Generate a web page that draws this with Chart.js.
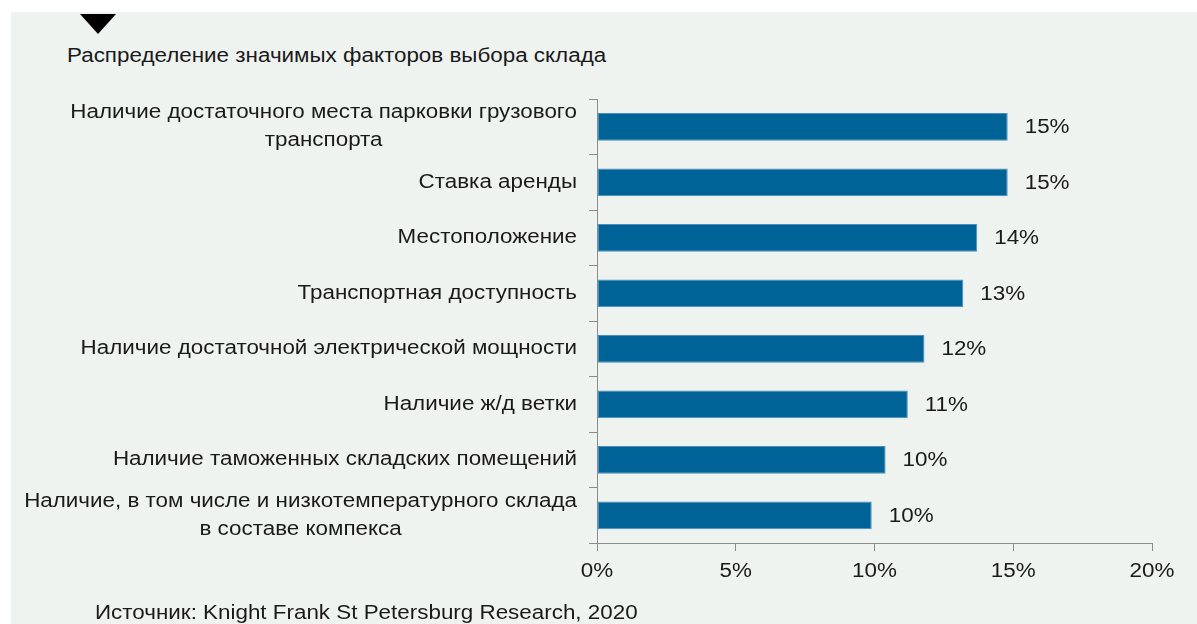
<!DOCTYPE html>
<html lang="ru">
<head>
<meta charset="utf-8">
<script src="https://cdn.jsdelivr.net/npm/chart.js@4/dist/chart.umd.min.js"></script>
<style>
  body { margin: 0; background: #fff; width: 1197px; height: 624px; overflow: hidden; position: relative; font-family: "Liberation Sans", Arial, sans-serif; color: #1a1a1a; }
  #panel { position: absolute; left: 11px; top: 12px; right: 0; bottom: 0; background: #eff3f0; }
  #marker { position: absolute; left: 80px; top: 14px; width: 0; height: 0; border-left: 18px solid transparent; border-right: 18px solid transparent; border-top: 20px solid #000; }
  .txt { position: absolute; font-size: 20px; white-space: nowrap; transform: scaleX(1.12); transform-origin: 0 0; }
  #title { left: 67px; top: 44px; }
  #source { left: 95px; top: 601px; }
  #wrap { position: absolute; left: 0; top: 0; width: 1197px; height: 624px; }
</style>
</head>
<body>
<div id="panel"></div>
<div id="marker"></div>
<div id="title" class="txt">Распределение значимых факторов выбора склада</div>
<div id="wrap"><canvas id="factors"></canvas></div>
<div id="source" class="txt">Источник: Knight Frank St Petersburg Research, 2020</div>
<script>
// categories (each one split into its printed lines)
const factors = [
    ["Наличие достаточного места парковки грузового", "транспорта"],
    ["Ставка аренды"],
    ["Местоположение"],
    ["Транспортная доступность"],
    ["Наличие достаточной электрической мощности"],
    ["Наличие ж/д ветки"],
    ["Наличие таможенных складских помещений"],
    ["Наличие, в том числе и низкотемпературного склада", "в составе компекса"]
];
// share of answers, %
const shares = [14.8, 14.8, 13.7, 13.2, 11.8, 11.2, 10.4, 9.9];
const xTicks = [0, 5, 10, 15, 20];

const FONT = '"Liberation Sans", Arial, sans-serif';
const TEXT = "#1a1a1a";
const AXIS = "#8c8c8c";
const STRETCH = 1.12; // the source text is a bit wider than the font

function wideText(ctx, s, x, y, align) {
    ctx.save();
    ctx.translate(x, y);
    ctx.scale(STRETCH, 1);
    ctx.textAlign = align;
    ctx.fillText(s, 0, 0);
    ctx.restore();
}

// y labels (lines centred on each other, block right-aligned), value labels, x tick labels
const labelsPlugin = {
    id: "labels",
    afterDatasetsDraw(chart) {
        const ctx = chart.ctx;
        const ys = chart.scales.y;
        const xs = chart.scales.x;
        ctx.save();
        ctx.font = "20px " + FONT;
        ctx.fillStyle = TEXT;
        ctx.textBaseline = "middle";
        factors.forEach((lines, i) => {
            const cy = ys.getPixelForValue(i);
            const w = Math.max(...lines.map(l => ctx.measureText(l).width)) * STRETCH;
            const cx = ys.right - 20 - w / 2;
            lines.forEach((l, k) => {
                wideText(ctx, l, cx, cy + (k - (lines.length - 1) / 2) * 28, "center");
            });
            wideText(ctx, Math.round(shares[i]) + "%", xs.getPixelForValue(shares[i]) + 17, cy + 1, "left");
        });
        xTicks.forEach(v => {
            wideText(ctx, v + "%", xs.getPixelForValue(v), xs.top + 28, "center");
        });
        ctx.restore();
    }
};

new Chart(document.getElementById("factors"), {
    type: "bar",
    data: {
        labels: factors.map(f => f.join(" ")),
        datasets: [{
            data: shares,
            backgroundColor: "#006398",
            borderColor: "#4a8dbb",
            borderWidth: 1,
            borderSkipped: false,
            barPercentage: 0.5,
            categoryPercentage: 1
        }]
    },
    options: {
        indexAxis: "y",
        responsive: true,
        maintainAspectRatio: false,
        animation: false,
        layout: { padding: { left: 0, right: 45, top: 99, bottom: 0 } },
        plugins: { legend: { display: false }, tooltip: { enabled: false } },
        scales: {
            x: {
                min: 0,
                max: 20,
                afterBuildTicks(scale) { scale.ticks = xTicks.map(v => ({ value: v })); },
                afterFit(scale) { scale.height = 81; },
                border: { display: true, color: AXIS, width: 1 },
                grid: { drawOnChartArea: false, drawTicks: true, tickLength: 8, color: AXIS },
                ticks: {
                    color: "rgba(0,0,0,0)",
                    font: { family: FONT, size: 20 },
                    padding: 6,
                    callback: v => v + "%"
                }
            },
            y: {
                afterFit(scale) { scale.width = 597; },
                border: { display: true, color: AXIS, width: 1 },
                grid: { drawOnChartArea: false, drawTicks: true, tickLength: 8, color: AXIS },
                ticks: { display: false }
            }
        }
    },
    plugins: [labelsPlugin]
});
</script>
</body>
</html>
